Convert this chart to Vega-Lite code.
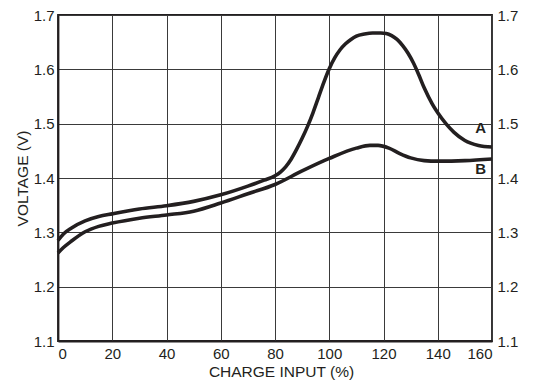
{
  "$schema": "https://vega.github.io/schema/vega-lite/v6.json",
  "width": 434,
  "height": 326,
  "autosize": {"type": "none"},
  "padding": {"left": 58, "top": 15, "right": 57, "bottom": 45},
  "background": "white",
  "config": {
    "view": {"stroke": "#231f20", "strokeWidth": 1.8},
    "font": "Liberation Sans",
    "axis": {
      "labelFont": "Liberation Sans",
      "titleFont": "Liberation Sans",
      "labelFontSize": 15,
      "titleFontSize": 15.5,
      "titleFontWeight": "normal",
      "labelColor": "#231f20",
      "titleColor": "#231f20",
      "domainColor": "#231f20",
      "domainWidth": 1.8,
      "gridColor": "#3a3a3a",
      "gridWidth": 1,
      "gridOpacity": 1,
      "ticks": false
    }
  },
  "data": {
    "values": [
      {"s": "A", "x": 0, "y": 1.285},
      {"s": "A", "x": 2, "y": 1.297},
      {"s": "A", "x": 5, "y": 1.308},
      {"s": "A", "x": 10, "y": 1.321},
      {"s": "A", "x": 15, "y": 1.329},
      {"s": "A", "x": 20, "y": 1.334},
      {"s": "A", "x": 30, "y": 1.343},
      {"s": "A", "x": 40, "y": 1.349},
      {"s": "A", "x": 50, "y": 1.357},
      {"s": "A", "x": 60, "y": 1.369},
      {"s": "A", "x": 70, "y": 1.385},
      {"s": "A", "x": 76, "y": 1.396},
      {"s": "A", "x": 80, "y": 1.404},
      {"s": "A", "x": 82, "y": 1.411},
      {"s": "A", "x": 84, "y": 1.421},
      {"s": "A", "x": 86, "y": 1.435},
      {"s": "A", "x": 88, "y": 1.453},
      {"s": "A", "x": 90, "y": 1.473},
      {"s": "A", "x": 92, "y": 1.495},
      {"s": "A", "x": 94, "y": 1.52},
      {"s": "A", "x": 96, "y": 1.548},
      {"s": "A", "x": 98, "y": 1.576},
      {"s": "A", "x": 100, "y": 1.601},
      {"s": "A", "x": 102, "y": 1.621},
      {"s": "A", "x": 104, "y": 1.636},
      {"s": "A", "x": 106, "y": 1.647},
      {"s": "A", "x": 108, "y": 1.655},
      {"s": "A", "x": 110, "y": 1.661},
      {"s": "A", "x": 113, "y": 1.665},
      {"s": "A", "x": 116, "y": 1.667},
      {"s": "A", "x": 119, "y": 1.667},
      {"s": "A", "x": 121, "y": 1.666},
      {"s": "A", "x": 123, "y": 1.662},
      {"s": "A", "x": 125, "y": 1.655},
      {"s": "A", "x": 127, "y": 1.644},
      {"s": "A", "x": 129, "y": 1.63},
      {"s": "A", "x": 131, "y": 1.612},
      {"s": "A", "x": 133, "y": 1.59},
      {"s": "A", "x": 135, "y": 1.566},
      {"s": "A", "x": 138, "y": 1.536},
      {"s": "A", "x": 140, "y": 1.52},
      {"s": "A", "x": 143, "y": 1.5},
      {"s": "A", "x": 146, "y": 1.484},
      {"s": "A", "x": 150, "y": 1.469},
      {"s": "A", "x": 155, "y": 1.46},
      {"s": "A", "x": 160, "y": 1.457},
      {"s": "B", "x": 0, "y": 1.262},
      {"s": "B", "x": 2, "y": 1.272},
      {"s": "B", "x": 5, "y": 1.284},
      {"s": "B", "x": 10, "y": 1.301},
      {"s": "B", "x": 15, "y": 1.311},
      {"s": "B", "x": 20, "y": 1.317},
      {"s": "B", "x": 30, "y": 1.326},
      {"s": "B", "x": 40, "y": 1.332},
      {"s": "B", "x": 50, "y": 1.339},
      {"s": "B", "x": 60, "y": 1.354},
      {"s": "B", "x": 70, "y": 1.371},
      {"s": "B", "x": 80, "y": 1.388},
      {"s": "B", "x": 90, "y": 1.413},
      {"s": "B", "x": 100, "y": 1.436},
      {"s": "B", "x": 110, "y": 1.455},
      {"s": "B", "x": 115, "y": 1.46},
      {"s": "B", "x": 118, "y": 1.46},
      {"s": "B", "x": 122, "y": 1.455},
      {"s": "B", "x": 126, "y": 1.445},
      {"s": "B", "x": 130, "y": 1.437},
      {"s": "B", "x": 135, "y": 1.432},
      {"s": "B", "x": 140, "y": 1.431},
      {"s": "B", "x": 150, "y": 1.432},
      {"s": "B", "x": 160, "y": 1.435}
    ]
  },
  "layer": [
    {
      "mark": {"type": "line", "interpolate": "monotone", "color": "#231f20", "strokeWidth": 3.6},
      "encoding": {
        "x": {
          "field": "x", "type": "quantitative",
          "scale": {"domain": [0, 160], "nice": false},
          "axis": {"values": [0, 20, 40, 60, 80, 100, 120, 140, 160], "title": "CHARGE INPUT (%)", "labelPadding": 5, "titlePadding": 3, "titleX": 223, "grid": true}
        },
        "y": {
          "field": "y", "type": "quantitative",
          "scale": {"domain": [1.1, 1.7], "nice": false, "zero": false},
          "axis": {"values": [1.1, 1.2, 1.3, 1.4, 1.5, 1.6, 1.7], "format": ".1f", "title": "VOLTAGE (V)", "labelPadding": 4, "titlePadding": 3, "grid": true}
        },
        "detail": {"field": "s"}
      }
    },
    {
      "data": {"values": [{"label": "A", "x": 155.8, "y": 1.492}, {"label": "B", "x": 155.8, "y": 1.416}]},
      "mark": {"type": "text", "font": "Liberation Sans", "fontWeight": "bold", "fontSize": 15, "color": "#231f20", "baseline": "middle", "align": "center"},
      "encoding": {
        "x": {"field": "x", "type": "quantitative"},
        "y": {
          "field": "y", "type": "quantitative",
          "axis": {"orient": "right", "values": [1.1, 1.2, 1.3, 1.4, 1.5, 1.6, 1.7], "format": ".1f", "title": null, "labelPadding": 5, "grid": false, "domain": false}
        },
        "text": {"field": "label"}
      }
    }
  ],
  "resolve": {"axis": {"y": "independent"}}
}
